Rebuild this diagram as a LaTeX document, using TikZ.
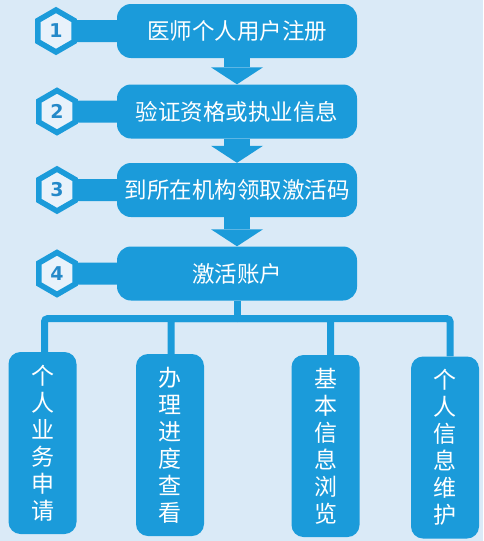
\documentclass[tikz,border=0pt]{standalone}
\usepackage{fontspec}
\setmainfont{DejaVu Sans}
\newfontfamily\cjk{Noto Sans CJK SC}
\usetikzlibrary{positioning, arrows.meta, calc, shapes.geometric}

\definecolor{fundo}{HTML}{DAEAF7}
\definecolor{azul}{HTML}{1B9BDA}
\definecolor{claro}{HTML}{E8F2FB}
\definecolor{numero}{HTML}{2489C9}

\begin{document}
\begin{tikzpicture}[
    x=1pt, y=-1pt,
    passo/.style={rectangle, rounded corners=14pt, fill=azul, text=white, minimum width=240pt, minimum height=54pt, inner sep=0pt, font=\cjk\fontsize{22.5}{26}\selectfont},
    hexa/.style={regular polygon, regular polygon sides=6, shape border rotate=30, draw=azul, line width=5.5pt, fill=claro, minimum size=42pt, inner sep=0pt, text=numero, font=\bfseries\fontsize{19}{19}\selectfont},
    faixa/.style={azul, line width=22pt},
    seta/.style={azul, line width=26pt, -{Triangle[width=52pt, length=17pt, line width=0pt]}},
    ramo/.style={azul, line width=7pt, rounded corners=3pt},
    caixa/.style={rectangle, rounded corners=12pt, fill=azul, text=white, minimum width=68pt, minimum height=182pt, inner sep=0pt, align=center, font=\cjk\fontsize{23}{27}\selectfont}
]

    % --- Fundo ---
    \path[use as bounding box, fill=fundo] (0,0) rectangle (483,541);

    % ==================================================
    % ETAPAS 1 a 4
    % ==================================================
    \node[passo] (bar1) at (237, 31)    {医师个人用户注册};
    \node[passo] (bar2) at (237, 111.5) {验证资格或执业信息};
    \node[passo] (bar3) at (237, 190)   {到所在机构领取激活码};
    \node[passo] (bar4) at (237, 273.5) {激活账户};

    % --- Hexagonos numerados ---
    \node[hexa] (hex1) at (56, 31)    {1};
    \node[hexa] (hex2) at (57, 111.5) {2};
    \node[hexa] (hex3) at (57, 190)   {3};
    \node[hexa] (hex4) at (57, 273.5) {4};

    % Faixas hexagono -> etapa
    \draw[faixa] (hex1.east) -- (bar1.west);
    \draw[faixa] (hex2.east) -- (bar2.west);
    \draw[faixa] (hex3.east) -- (bar3.west);
    \draw[faixa] (hex4.east) -- (bar4.west);

    % Setas entre etapas
    \draw[seta] (bar1.south) -- (bar2.north);
    \draw[seta] (bar2.south) -- (bar3.north);
    \draw[seta] (bar3.south) -- (bar4.north);

    % ==================================================
    % FUNCOES DA CONTA ATIVADA
    % ==================================================
    \node[caixa] (caixa1) at (42.5, 443)  {个\\人\\业\\务\\申\\请};
    \node[caixa] (caixa2) at (170, 445)   {办\\理\\进\\度\\查\\看};
    \node[caixa] (caixa3) at (325.5, 446) {基\\本\\信\\息\\浏\\览};
    \node[caixa] (caixa4) at (445, 447.5) {个\\人\\信\\息\\维\\护};

    % --- Ramificacao ---
    \coordinate (no) at ($(bar4.south)+(0,18)$);
    \draw[ramo] (bar4.south) -- (no);
    \draw[ramo] (no) -| ([xshift=2pt]caixa1.north);
    \draw[ramo] (no) -| ([xshift=1pt]caixa2.north);
    \draw[ramo] (no) -| ([xshift=5pt]caixa3.north);
    \draw[ramo] (no) -| ([xshift=5pt]caixa4.north);

\end{tikzpicture}
\end{document}
